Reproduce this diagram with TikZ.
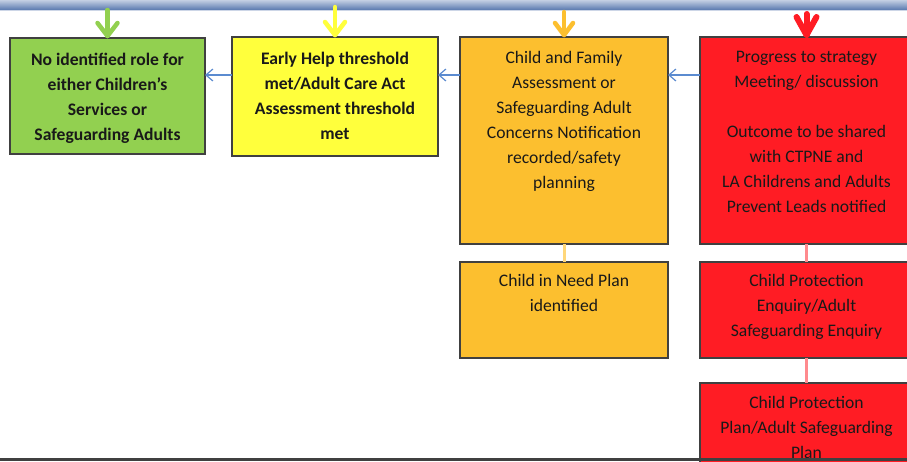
\documentclass[tikz,border=0pt]{standalone}
\usepackage{fontspec}
\setmainfont{Carlito}
\usetikzlibrary{arrows.meta}
\definecolor{cgreen}{HTML}{92D050}
\definecolor{cyellow}{HTML}{FFFF3C}
\definecolor{corange}{HTML}{FCBF2F}
\definecolor{cred}{HTML}{FF1C24}
\definecolor{cborder}{HTML}{404040}
\definecolor{cblue}{HTML}{5B8BD0}
\definecolor{corangeline}{HTML}{FFD77A}
\definecolor{credline}{HTML}{FF8A8E}
\definecolor{bandtop}{HTML}{C3CFE3}
\definecolor{bandbot}{HTML}{5878AE}
\begin{document}
\begin{tikzpicture}[x=1pt,y=-1pt,
 box/.style={draw=cborder, line width=1.3pt, anchor=north west, inner sep=0pt, outer sep=0pt},
 txt/.style={anchor=north, align=center, inner sep=0pt, font=\fontsize{17.6}{25}\selectfont, text=black!90},
 btxt/.style={txt, font=\fontsize{17.6}{25}\selectfont\bfseries},
 hflow/.style={draw=cblue, line width=1.2pt, -{Straight Barb[length=7pt,width=12pt]}},
 vlink/.style={line width=3pt},
 topar/.style={line width=4.5pt, line cap=round, line join=round}
]
\useasboundingbox (0,0) rectangle (907,461);
\clip (0,0) rectangle (907,461);
\fill[white] (0,0) rectangle (907,461);
% top band
\shade[top color=bandtop, bottom color=bandbot] (0,0) rectangle (907,10);
\draw[white!70!bandbot, line width=0.8pt] (0,10.4) -- (907,10.4);

% boxes
\node[box, fill=cgreen, minimum width=195pt, minimum height=116pt] (g) at (10,38) {};
\node[box, fill=cyellow, minimum width=206pt, minimum height=119pt] (yb) at (232,37) {};
\node[box, fill=corange, minimum width=208pt, minimum height=207pt] (o1) at (460,37) {};
\node[box, fill=cred, minimum width=213pt, minimum height=207pt] (r1) at (700,37) {};
\node[box, fill=corange, minimum width=208pt, minimum height=96pt] (o2) at (460,262) {};
\node[box, fill=cred, minimum width=213pt, minimum height=96pt] (r2) at (700,262) {};
\node[box, fill=cred, minimum width=213pt, minimum height=100pt] (r3) at (700,383) {};

% texts
\node[btxt] (gt) at ([yshift=-14.5pt]g.north) {No identified role for\\either Children’s\\Services or\\Safeguarding Adults};
\node[btxt] (yt) at ([yshift=-14.5pt]yb.north) {Early Help threshold\\met/Adult Care Act\\Assessment threshold\\met};
\node[txt] (o1t) at ([yshift=-14.5pt]o1.north) {Child and Family\\Assessment or\\Safeguarding Adult\\Concerns Notification\\recorded/safety\\planning};
\node[txt] (r1t) at ([yshift=-14.5pt]r1.north) {Progress to strategy\\Meeting/ discussion\\[25pt]Outcome to be shared\\with CTPNE and\\LA Childrens and Adults\\Prevent Leads notified};
\node[txt] (o2t) at ([yshift=-12.5pt]o2.north) {Child in Need Plan\\identified};
\node[txt] (r2t) at ([yshift=-12.5pt]r2.north) {Child Protection\\Enquiry/Adult\\Safeguarding Enquiry};
\node[txt] (r3t) at ([yshift=-13pt]r3.north) {Child Protection\\Plan/Adult Safeguarding\\Plan};

% vertical links
\draw[vlink, corangeline] (o1.south) -- (o2.north);
\draw[vlink, credline] (r1.south) -- (r2.north);
\draw[vlink, credline] (r2.south) -- (r3.north);

% horizontal arrows
\coordinate (ar) at (0,75);
\draw[hflow] (yb.west |- ar) -- (g.east |- ar);
\draw[hflow] (o1.west |- ar) -- (yb.east |- ar);
\draw[hflow] (r1.west |- ar) -- (o1.east |- ar);

% top arrows
\draw[topar, cgreen] (g.north) ++(0,-2) -- ++(0,-26);
\draw[topar, cgreen] (g.north) ++(-10,-15) -- ++(10,13) -- ++(10,-13);
\draw[topar, cyellow] (yb.north) ++(0,-2) -- ++(0,-28);
\draw[topar, cyellow] (yb.north) ++(-10,-15) -- ++(10,13) -- ++(10,-13);
\draw[topar, corange] (o1.north) ++(0,-2) -- ++(0,-23);
\draw[topar, corange] (o1.north) ++(-9,-14) -- ++(9,12) -- ++(9,-12);
\draw[line width=6pt, line cap=round, line join=round, cred] (r1.north) ++(0,-2) -- ++(0,-21);
\draw[line width=6pt, line cap=round, line join=round, cred] (r1.north) ++(-10,-20) -- ++(10,18) -- ++(10,-18);

% bottom bar
\fill[cborder] (0,457.5) rectangle (907,461);
\end{tikzpicture}
\end{document}
